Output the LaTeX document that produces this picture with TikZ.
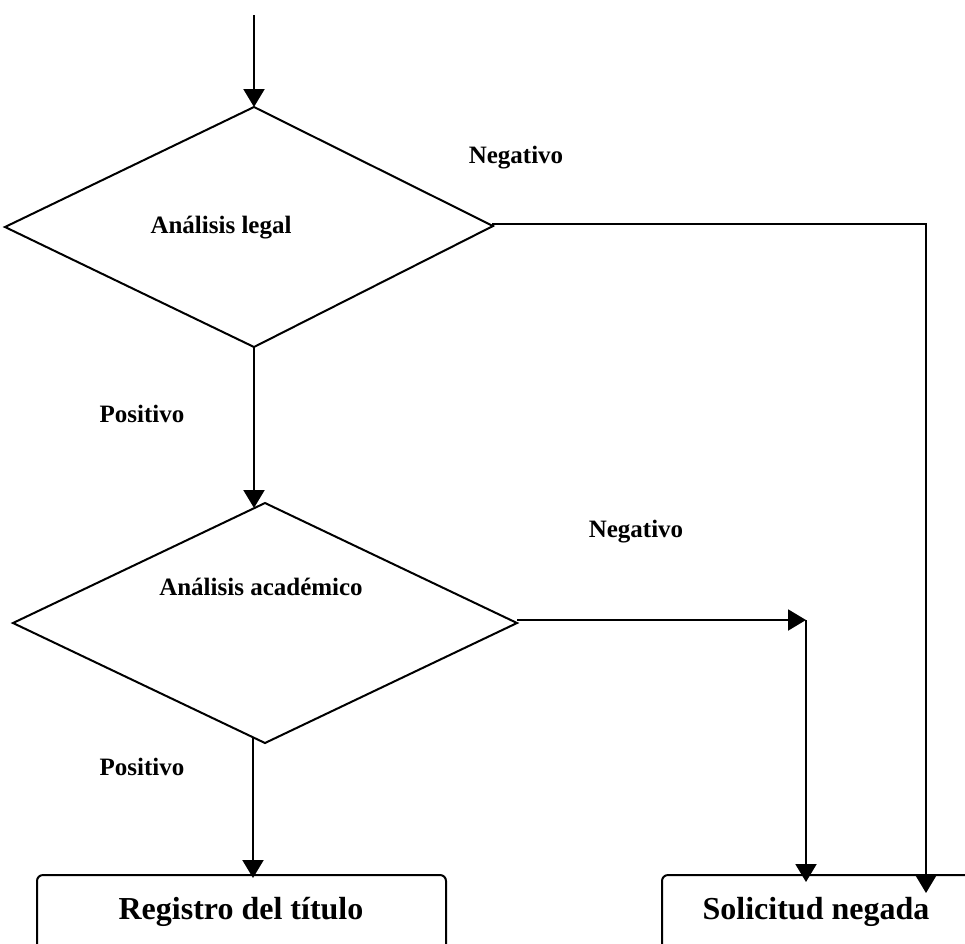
\documentclass[tikz,border=0pt]{standalone}
\usepackage{fontspec}
\setmainfont{Liberation Serif}
\usetikzlibrary{arrows.meta}
\begin{document}
\begin{tikzpicture}[x=1pt,y=-1pt,
  line/.style={line width=2pt, line cap=butt},
  arr/.style={line, -{Triangle[length=18pt,width=21pt]}},
  lbl/.style={font=\bfseries\fontsize{25}{30}\selectfont, inner sep=0pt},
  boxlbl/.style={font=\bfseries\fontsize{32}{38}\selectfont, inner sep=0pt},
  procbox/.style={line, rounded corners=6pt}]
\useasboundingbox (0,0) rectangle (965,943);
% diamond 1
\coordinate (d1t) at (254,107);
\coordinate (d1r) at (493,226);
\coordinate (d1b) at (254,347);
\coordinate (d1l) at (5,227);
\draw[line] (d1t) -- (d1r) -- (d1b) -- (d1l) -- cycle;
% diamond 2
\coordinate (d2t) at (265,503);
\coordinate (d2r) at (517,623);
\coordinate (d2b) at (265,743);
\coordinate (d2l) at (13,623);
\draw[line] (d2t) -- (d2r) -- (d2b) -- (d2l) -- cycle;
% boxes
\draw[procbox] (37,990) -- (37,875) -- (446,875) -- (446,990);
\draw[procbox] (662,990) -- (662,875) -- (1000,875);
\node[boxlbl] (reg) at (241,912) {Registro del título};
\node[boxlbl] (sol) at (816,912) {Solicitud negada};
% labels
\node[lbl] (neg1) at (516,158) {Negativo};
\node[lbl] (al) at (221,228) {Análisis legal};
\node[lbl] (pos1) at (142,414) {Positivo};
\node[lbl] (neg2) at (636,532) {Negativo};
\node[lbl] (aa) at (261,587) {Análisis académico};
\node[lbl] (pos2) at (142,767) {Positivo};
% connectors
\coordinate (start) at (254,15);
\draw[arr] (start) -- (d1t);
\coordinate (d2in) at (254,508);
\draw[arr] (d1b) -- (d2in);
\coordinate (d2out) at (253,737);
\coordinate (regin) at (253,878);
\draw[arr] (d2out) -- (regin);
\coordinate (c1) at (926,224);
\coordinate (solin1) at (926,893);
\draw[arr] (d1r) -- (493,224) -- (c1) -- (solin1);
\coordinate (c2) at (806,620);
\coordinate (solin2) at (806,882);
\draw[arr] (517,620) -- (c2);
\draw[arr] (c2) -- (solin2);
\end{tikzpicture}
\end{document}
